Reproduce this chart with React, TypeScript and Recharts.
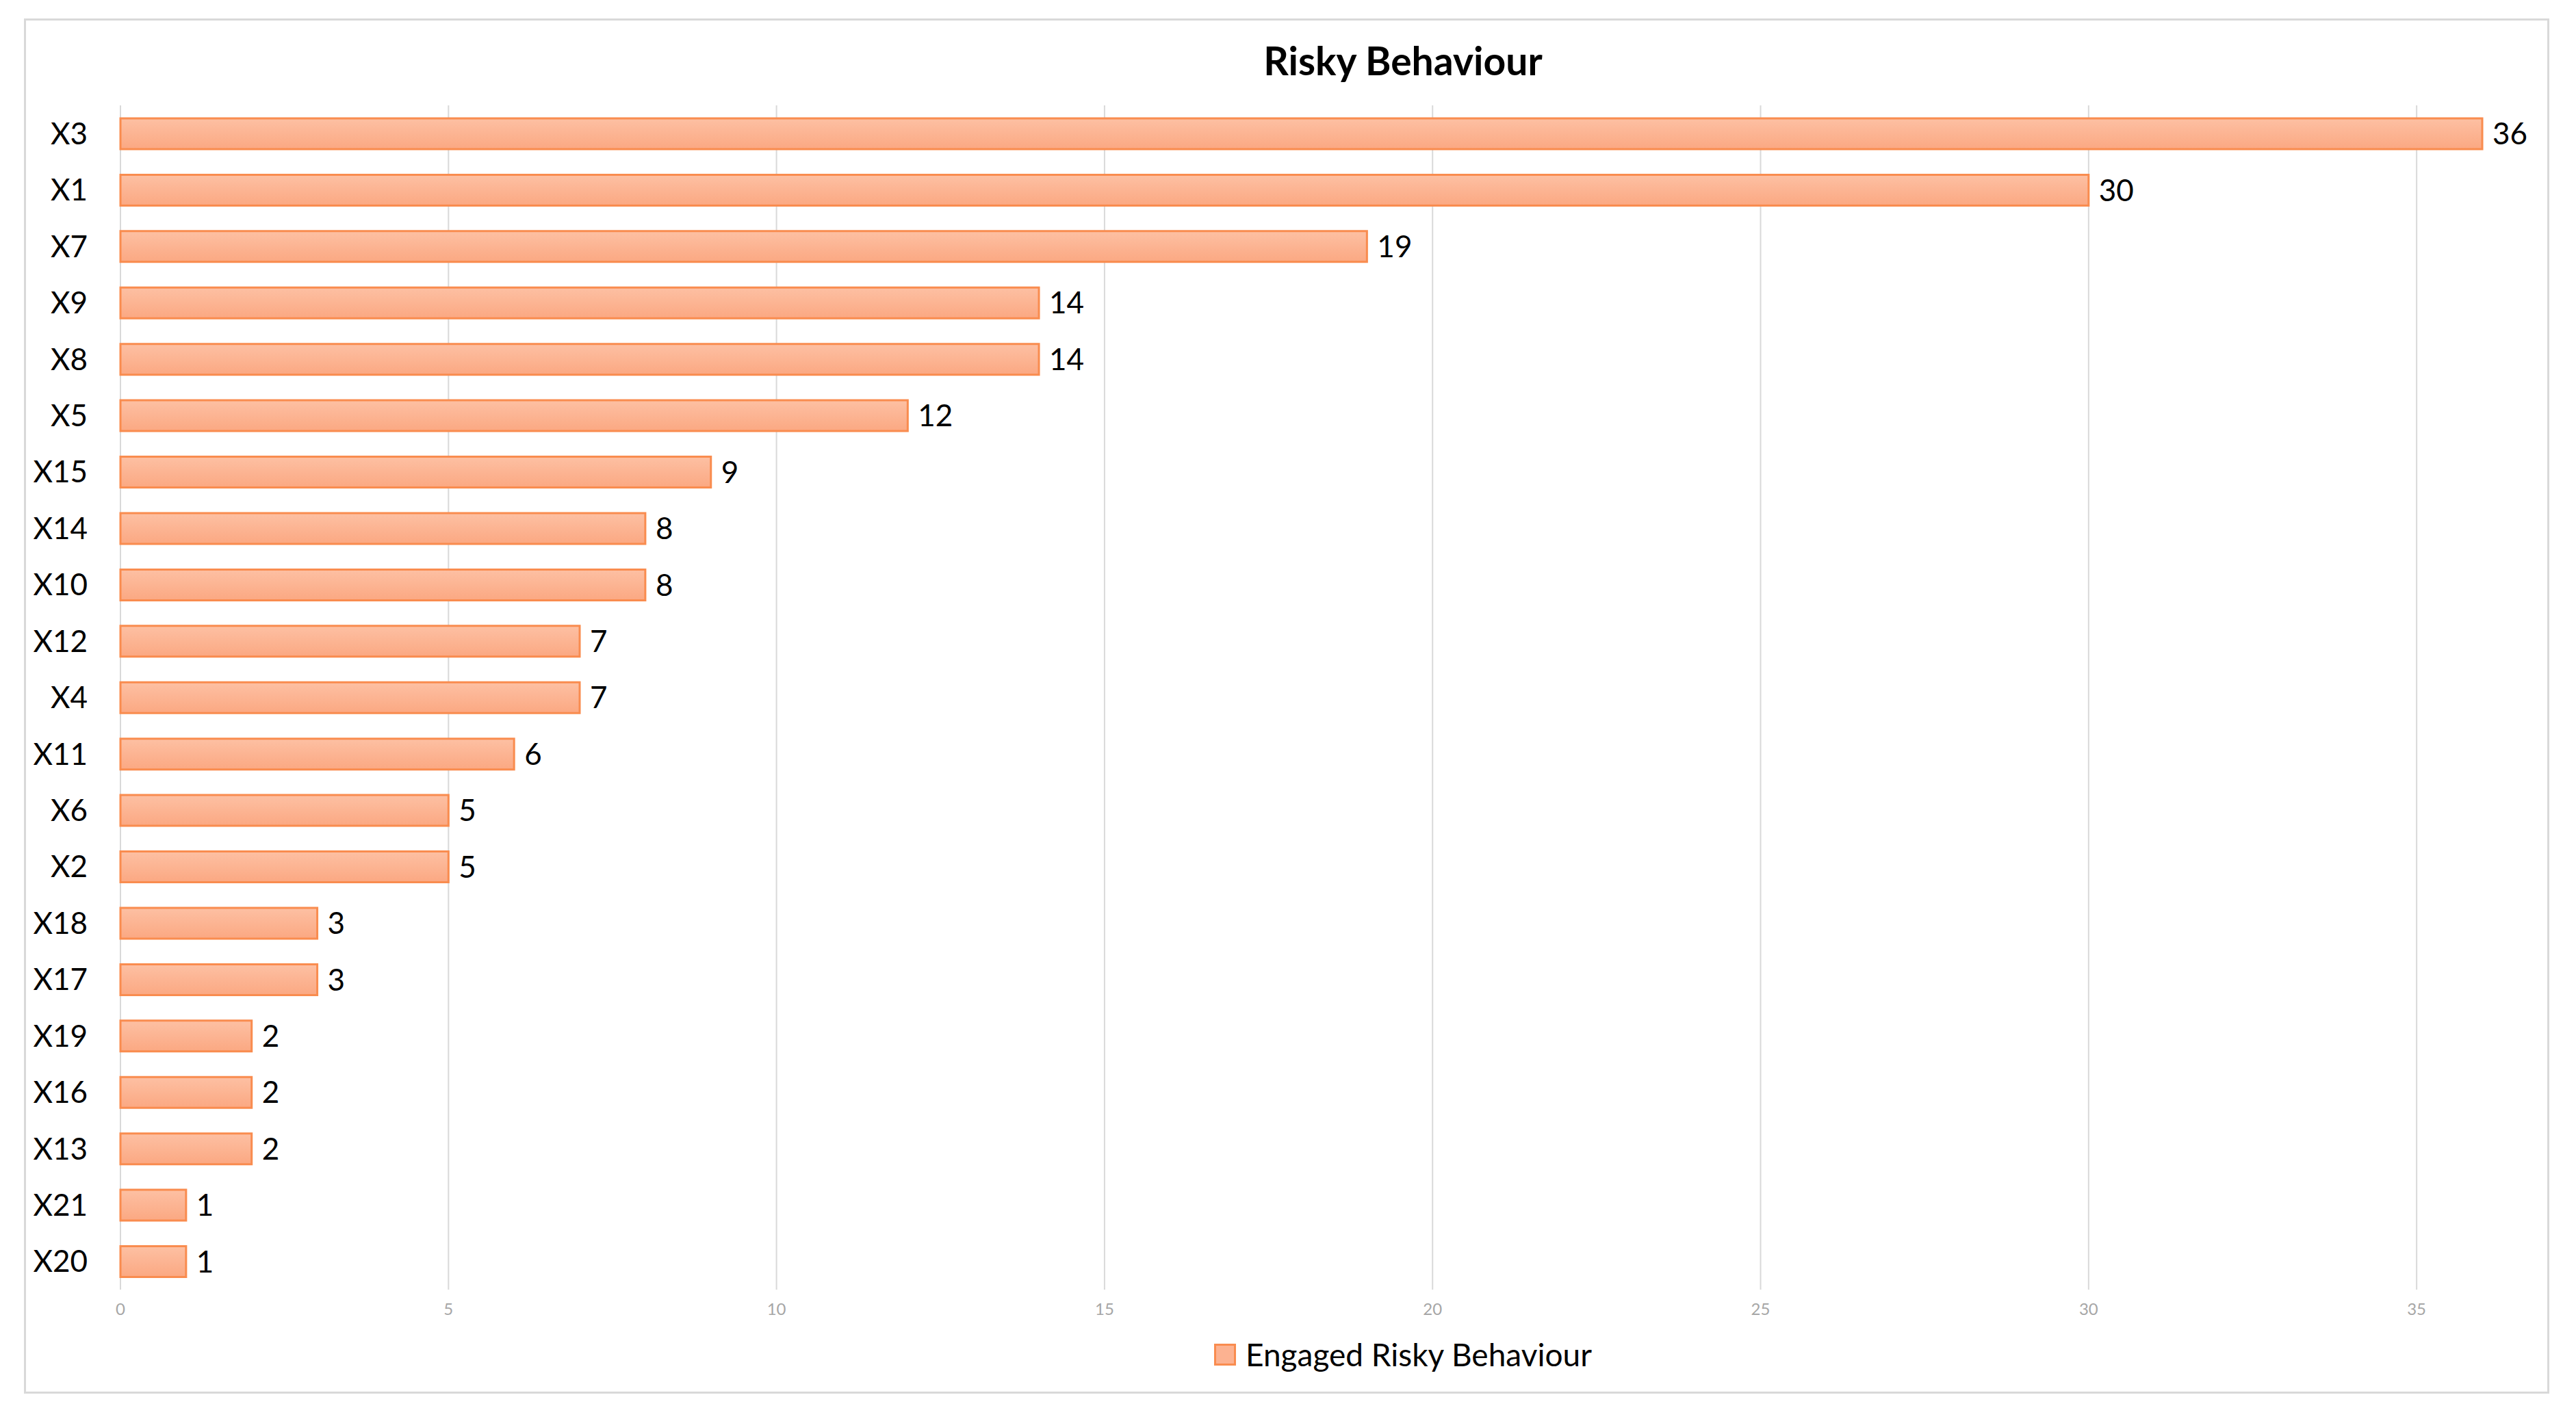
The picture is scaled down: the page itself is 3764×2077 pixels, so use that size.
import React from 'react';
import {
  BarChart,
  Bar,
  XAxis,
  YAxis,
  CartesianGrid,
  Legend,
  LabelList
} from 'recharts';

// categories top to bottom, as in the picture
const categories = [
  'X3', 'X1', 'X7', 'X9', 'X8', 'X5', 'X15', 'X14', 'X10', 'X12', 'X4',
  'X11', 'X6', 'X2', 'X18', 'X17', 'X19', 'X16', 'X13', 'X21', 'X20'
];
const engaged = [36, 30, 19, 14, 14, 12, 9, 8, 8, 7, 7, 6, 5, 5, 3, 3, 2, 2, 2, 1, 1];
const xTicks = [0, 5, 10, 15, 20, 25, 30, 35];
const X_MAX = 36;

const data = categories.map((name, i) => ({ name, value: engaged[i] }));

const FONT = 'Lato, "Open Sans", sans-serif';
const BAR_STROKE = '#f98c4f';

const LegendContent = () => (
  <div
    style={{
      display: 'flex',
      justifyContent: 'center',
      alignItems: 'center',
      fontFamily: FONT,
      paddingLeft: 336
    }}
  >
    <span
      style={{
        display: 'inline-block',
        width: 26,
        height: 26,
        background: '#fcb291',
        border: `3px solid ${BAR_STROKE}`,
        marginRight: 14
      }}
    />
    <span style={{ fontSize: 46, color: '#000' }}>Engaged Risky Behaviour</span>
  </div>
);

// vertical grid lines only at the axis ticks (not at the domain edge)
const gridAtTicks = (props: any) => {
  const s = props.xAxis?.scale;
  return xTicks.map((t) => {
    if (typeof s === 'function') return s(t);
    if (s && typeof s.map === 'function') return s.map(t);
    const o = props.offset;
    return o.left + (t / X_MAX) * o.width;
  });
};

const App: React.FC = () => {
  return (
    <div
      style={{
        position: 'absolute',
        left: 0,
        top: 0,
        width: 3764,
        height: 2077,
        background: '#fff',
        fontFamily: FONT
      }}
    >
      {/* chart frame */}
      <div
        style={{
          position: 'absolute',
          left: 35,
          top: 27,
          width: 3690,
          height: 2010,
          border: '3px solid #d9d9d9',
          boxSizing: 'border-box'
        }}
      />
      <div
        style={{
          position: 'absolute',
          left: 0,
          top: 55,
          width: 3764,
          textAlign: 'center',
          fontSize: 57,
          fontWeight: 'bold',
          color: '#000',
          lineHeight: '66px',
          paddingLeft: 336,
          boxSizing: 'border-box'
        }}
      >
        Risky Behaviour
      </div>
      <BarChart
        width={3764}
        height={2077}
        data={data}
        layout="vertical"
        barCategoryGap="23%"
        margin={{ top: 154, right: 137, left: 0, bottom: 132 }}
        style={{ position: 'absolute', left: 0, top: 0 }}
      >
        <defs>
          <linearGradient id="barFill" x1="0" y1="0" x2="0" y2="1">
            <stop offset="0%" stopColor="#fdc0a3" />
            <stop offset="100%" stopColor="#fba882" />
          </linearGradient>
        </defs>
        <CartesianGrid
          horizontal={false}
          stroke="#d9d9d9"
          strokeWidth={2}
          verticalCoordinatesGenerator={gridAtTicks}
        />
        <XAxis
          type="number"
          domain={[0, X_MAX]}
          ticks={xTicks}
          height={60}
          axisLine={false}
          tickLine={false}
          tickSize={0}
          tickMargin={20}
          tick={{ fontSize: 24, fill: '#a6a6a6', fontFamily: FONT }}
        />
        <YAxis
          type="category"
          dataKey="name"
          width={176}
          axisLine={false}
          tickLine={false}
          tickSize={0}
          tickMargin={48}
          interval={0}
          tick={{ fontSize: 44, fill: '#000', fontFamily: FONT }}
        />
        <Legend
          layout="horizontal"
          verticalAlign="middle"
          align="center"
          content={<LegendContent />}
          wrapperStyle={{ top: 1952, left: 0, width: 3764 }}
        />
        <Bar
          dataKey="value"
          name="Engaged Risky Behaviour"
          fill="url(#barFill)"
          stroke={BAR_STROKE}
          strokeWidth={3}
          isAnimationActive={false}
        >
          <LabelList
            dataKey="value"
            position="right"
            offset={15}
            style={{ fontSize: 44, fill: '#000', fontFamily: FONT }}
          />
        </Bar>
      </BarChart>
    </div>
  );
};

export default App;
